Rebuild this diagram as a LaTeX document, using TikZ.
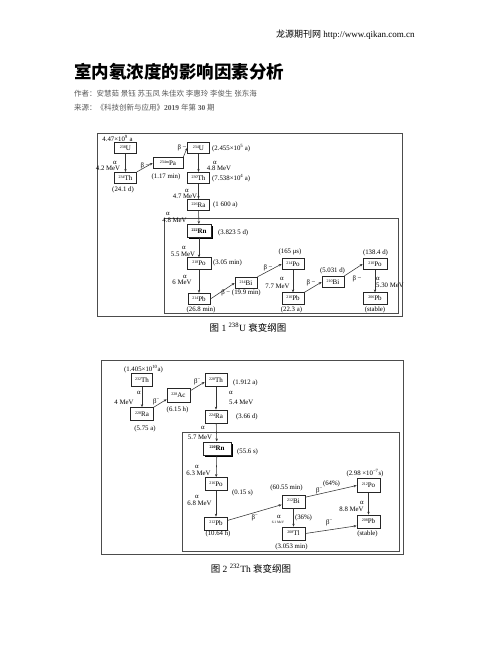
\documentclass[tikz,border=0pt]{standalone}
\usepackage{fontspec}
\setmainfont{Liberation Serif}
\newfontfamily\cjk{Noto Sans CJK SC}
\usetikzlibrary{arrows.meta,shadows}
\newcommand{\nuc}[2]{{\fontsize{4}{4}\selectfont\raisebox{2pt}{#1}}#2}
\tikzset{
  nbox/.style={draw=black!85, line width=0.7pt, fill=white, minimum width=22pt, minimum height=11.5pt, inner sep=0pt, font=\fontsize{7}{7}\selectfont},
  nboxb/.style={nbox, minimum height=13pt},
  rnbox/.style={nbox, line width=1pt, minimum width=24pt, minimum height=13pt, font=\fontsize{7}{7}\selectfont\bfseries, drop shadow={shadow xshift=1.8pt, shadow yshift=-1.8pt, opacity=1, fill=black}},
  lab/.style={inner sep=0pt, font=\fontsize{6.8}{7}\selectfont},
  tinylab/.style={inner sep=0pt, font=\fontsize{3.5}{4}\selectfont},
  arr/.style={draw=black!80, line width=0.55pt, -{Stealth[length=3pt,width=2.4pt]}},
  frame/.style={draw=black!70, line width=0.8pt},
}
\begin{document}
\begin{tikzpicture}[x=1pt,y=-1pt]
\useasboundingbox (0,0) rectangle (502,649);
\fill[white] (0,0) rectangle (502,649);

% header
\node[anchor=west, inner sep=0pt] (hdr) at (276,35) {\fontsize{9}{10}\selectfont{\cjk 龙源期刊网} http://www.qikan.com.cn};
\node[anchor=west, inner sep=0pt] (title) at (74,72) {\fontsize{17.5}{18}\selectfont\cjk\bfseries 室内氡浓度的影响因素分析};
\node[anchor=west, inner sep=0pt, text=black!65] (auth) at (74,94) {\fontsize{7.5}{8}\selectfont\cjk 作者：安慧茹 景钰 苏玉凤 朱佳欢 李惠玲 李俊生 张东海};
\node[anchor=west, inner sep=0pt, text=black!65] (src) at (74,108) {\fontsize{7.5}{8}\selectfont\cjk 来源：《科技创新与应用》\rmfamily\bfseries 2019 \cjk\mdseries 年第 \rmfamily\bfseries 30 \cjk\mdseries 期};

% ===== Figure 1 =====
\draw[frame] (97,133) rectangle (402,316);
\draw[frame] (164,218) rectangle (398,313);

\node[nbox] (U238) at (125.5,148) {\nuc{238}{U}};
\node[nbox] (Th234) at (125.5,178) {\nuc{234}{Th}};
\node[nbox, minimum width=30pt] (Pa234) at (168,163) {\nuc{234m}{Pa}};
\node[nbox] (U234) at (198.5,148) {\nuc{234}{U}};
\node[nbox] (Th230) at (198.5,178) {\nuc{230}{Th}};
\node[nbox] (Ra226) at (198.5,205) {\nuc{226}{Ra}};
\node[rnbox] (Rn222) at (199,231) {\nuc{222}{Rn}};
\node[nbox, minimum width=24pt] (Po218) at (199,263.5) {\nuc{218}{Po}};
\node[nbox] (Pb214) at (199,299) {\nuc{214}{Pb}};
\node[nbox] (Bi214) at (246,283) {\nuc{214}{Bi}};
\node[nbox] (Po214) at (293,264) {\nuc{214}{Po}};
\node[nbox] (Pb210) at (293,298.5) {\nuc{210}{Pb}};
\node[nbox] (Bi210) at (333,282) {\nuc{210}{Bi}};
\node[nbox, minimum width=24pt] (Po210) at (375,264) {\nuc{210}{Po}};
\node[nbox, minimum width=24pt] (Pb206) at (375,298.5) {\nuc{206}{Pb}};

\draw[arr] (U238) -- (Th234);
\draw[arr] (Th234.north east) -- (Pa234.west);
\draw[arr] (Pa234.north east) -- (U234.west);
\draw[arr] (U234) -- (Th230);
\draw[arr] (Th230) -- (Ra226);
\draw[arr] (Ra226) -- (Rn222);
\draw[arr] (Rn222) -- (Po218);
\draw[arr] (Po218) -- (Pb214);
\draw[arr] (Pb214.east) -- (Bi214.west);
\draw[arr] (Bi214.north east) -- (Po214.west);
\draw[arr] (Po214) -- (Pb210);
\draw[arr] (Pb210.north east) -- (Bi210.west);
\draw[arr] (Bi210.north east) -- (Po210.west);
\draw[arr] (Po210) -- (Pb206);

\node[lab] (l1) at (117.5,138) {4.47×10\textsuperscript{9} a};
\node[lab] (l2) at (115,163) {α};
\node[lab] (l3) at (108,168.5) {4.2 MeV};
\node[lab] (l4) at (123,190) {(24.1 d)};
\node[lab] (l5) at (145,166) {β −};
\node[lab] (l6) at (166,177) {(1.17 min)};
\node[lab] (l7) at (182,148) {β −};
\node[lab, anchor=west] (l8) at (212,148) {(2.455×10\textsuperscript{5} a)};
\node[lab] (l9) at (215,163) {α};
\node[lab] (l10) at (219,168.5) {4.8 MeV};
\node[lab, anchor=west] (l11) at (212,178) {(7.538×10\textsuperscript{4} a)};
\node[lab] (l12) at (187,191) {α};
\node[lab] (l13) at (185,196.5) {4.7 MeV};
\node[lab, anchor=west] (l14) at (213,205) {(1 600 a)};
\node[lab] (l15) at (168,214) {α};
\node[lab] (l16) at (174.5,220) {4.8 MeV};
\node[lab, anchor=west] (l17) at (218,233) {(3.823 5 d)};
\node[lab] (l18) at (184,248) {α};
\node[lab] (l19) at (183,254) {5.5 MeV};
\node[lab, anchor=west] (l20) at (213,263) {(3.05 min)};
\node[lab] (l21) at (185,277) {α};
\node[lab] (l22) at (182,282.5) {6 MeV};
\node[lab] (l23) at (201,310) {(26.8 min)};
\node[lab] (l24) at (241,293) {β − (19.9 min)};
\node[lab] (l25) at (290,252) {(165 μs)};
\node[lab] (l26) at (268,268) {β −};
\node[lab] (l27) at (282,279) {α};
\node[lab] (l28) at (277.5,286) {7.7 MeV};
\node[lab] (l29) at (291.5,310) {(22.3 a)};
\node[lab] (l30) at (332.5,271) {(5.031 d)};
\node[lab] (l31) at (311,283) {β −};
\node[lab] (l32) at (375.5,253) {(138.4 d)};
\node[lab] (l33) at (357,279) {β −};
\node[lab] (l34) at (378,279) {α};
\node[lab, anchor=west] (l35) at (376,285.5) {5.30 MeV};
\node[lab] (l36) at (375,310) {(stable)};

\node[inner sep=0pt] (cap1) at (248,328) {\fontsize{9.5}{10}\selectfont{\cjk 图} 1 \textsuperscript{238}U {\cjk 衰变纲图}};

% ===== Figure 2 =====
\draw[frame] (101,360) rectangle (403,554);
\draw[frame] (182,432) rectangle (399,551);

\node[nboxb, minimum width=21pt] (Th232) at (142,380) {\nuc{232}{Th}};
\node[nboxb, minimum width=23pt] (Ra228) at (142,414) {\nuc{228}{Ra}};
\node[nboxb, minimum width=23pt, minimum height=14pt] (Ac228) at (178.5,395) {\nuc{228}{Ac}};
\node[nboxb] (Th228) at (216,380) {\nuc{228}{Th}};
\node[nboxb] (Ra224) at (216,416.5) {\nuc{224}{Ra}};
\node[rnbox, minimum width=28pt] (Rn220) at (217,448.5) {\nuc{220}{Rn}};
\node[nboxb] (Po216) at (216,484) {\nuc{216}{Po}};
\node[nboxb, minimum width=23pt] (Pb212) at (216,523.5) {\nuc{212}{Pb}};
\node[nboxb, minimum width=23pt] (Bi212) at (293.5,501.5) {\nuc{212}{Bi}};
\node[nboxb, minimum width=23pt] (Tl208) at (293.5,533.5) {\nuc{208}{Tl}};
\node[nboxb, minimum width=23pt, minimum height=14pt] (Po212) at (368.5,485.5) {\nuc{212}{Po}};
\node[nboxb, minimum width=23pt] (Pb208) at (368.5,521.5) {\nuc{208}{Pb}};

\draw[arr] (Th232) -- (Ra228);
\draw[arr] (Ra228.north east) -- (Ac228.200);
\draw[arr] (Ac228.20) -- (Th228.190);
\draw[arr] (Th228) -- (Ra224);
\draw[arr] (Ra224) -- (Rn220);
\draw[arr] (Rn220) -- (Po216);
\draw[arr] (Po216) -- (Pb212);
\draw[arr] (Pb212.15) -- (Bi212.195);
\draw[arr] (Bi212.20) -- (Po212.west);
\draw[arr] (Bi212) -- (Tl208);
\draw[arr] (Po212) -- (Pb208);
\draw[arr] (Tl208.east) -- (Pb208.200);

\node[lab] (m1) at (143.5,369) {(1.405×10\textsuperscript{10}a)};
\node[lab] (m2) at (139,393) {α};
\node[lab] (m3) at (124,402) {4 MeV};
\node[lab] (m4) at (145,429) {(5.75 a)};
\node[lab] (m5) at (156.5,402) {β\textsuperscript{−}};
\node[lab] (m6) at (177.5,410) {(6.15 h)};
\node[lab] (m7) at (197.5,382) {β\textsuperscript{−}};
\node[lab, anchor=west] (m8) at (233,383) {(1.912 a)};
\node[lab] (m9) at (231,393) {α};
\node[lab, anchor=west] (m10) at (229,402) {5.4 MeV};
\node[lab, anchor=west] (m11) at (236,417) {(3.66 d)};
\node[lab] (m12) at (203,428) {α};
\node[lab] (m13) at (200,437) {5.7 MeV};
\node[lab, anchor=west] (m14) at (237,452) {(55.6 s)};
\node[lab] (m15) at (197,467) {α};
\node[lab] (m16) at (198.5,473) {6.3 MeV};
\node[lab, anchor=west] (m17) at (232,493) {(0.15 s)};
\node[lab] (m18) at (197,497) {α};
\node[lab] (m19) at (199.5,503) {6.8 MeV};
\node[lab] (m20) at (218,534) {(10.64 h)};
\node[lab] (m21) at (255,518) {β\textsuperscript{−}};
\node[lab] (m22) at (286.5,488) {(60.55 min)};
\node[lab] (m23) at (319.5,491) {β\textsuperscript{−}};
\node[lab] (m24) at (331.5,484) {(64\%)};
\node[lab] (m25) at (365,473) {(2.98 ×10\textsuperscript{−7}s)};
\node[lab] (m26) at (279,517) {α};
\node[tinylab] (m27) at (278,522) {6.1 MeV};
\node[lab] (m28) at (303.5,518) {(36\%)};
\node[lab] (m29) at (291.5,547) {(3.053 min)};
\node[lab] (m30) at (362,503) {α};
\node[lab] (m31) at (351.5,509) {8.8 MeV};
\node[lab] (m32) at (329.5,523) {β\textsuperscript{−}};
\node[lab] (m33) at (367.5,534) {(stable)};

\node[inner sep=0pt] (cap2) at (251,569) {\fontsize{9.5}{10}\selectfont{\cjk 图} 2 \textsuperscript{232}Th {\cjk 衰变纲图}};
\end{tikzpicture}
\end{document}
